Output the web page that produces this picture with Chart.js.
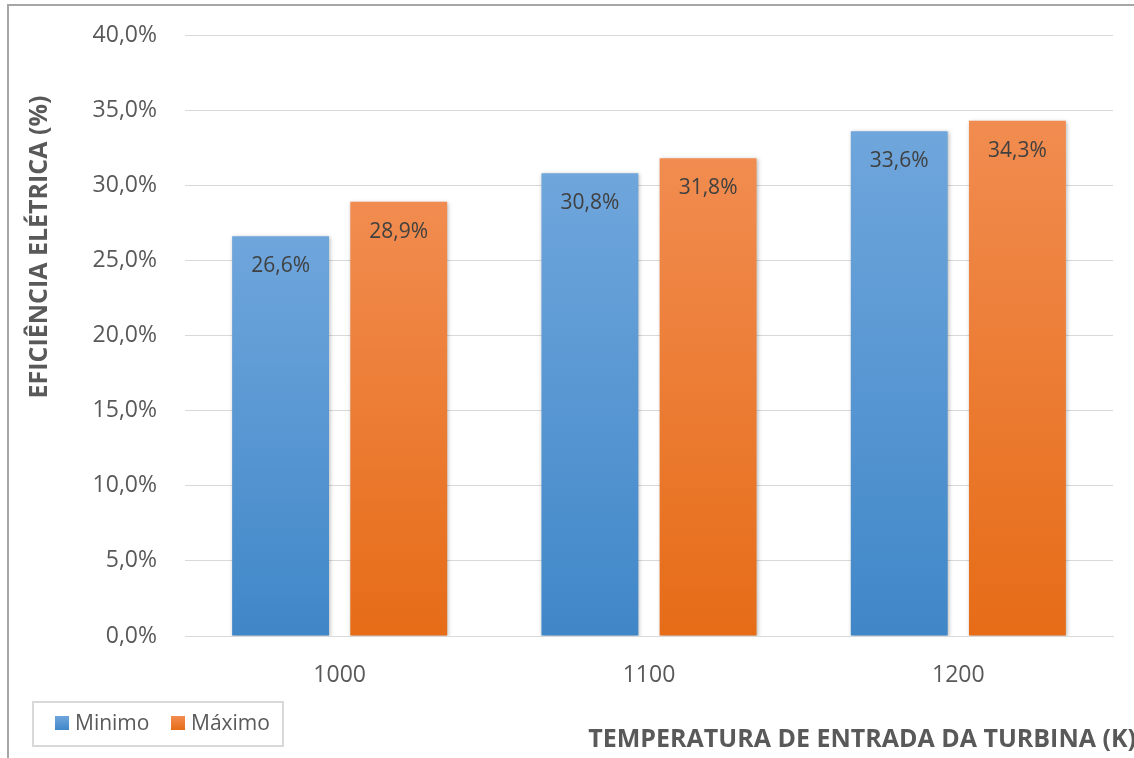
<!DOCTYPE html>
<html>
<head>
<meta charset="utf-8">
<script src="https://cdn.jsdelivr.net/npm/chart.js@4.4.1/dist/chart.umd.min.js"></script>
<style>
  html, body { margin: 0; padding: 0; background: #ffffff; }
  #wrap { position: relative; width: 1134px; height: 758px; }
</style>
</head>
<body>
<div id="wrap"><canvas id="c" width="1134" height="758"></canvas></div>
<script>
// Turbine inlet temperature (K) and electrical efficiency (%)
const categories = ['1000', '1100', '1200'];
const minimo = [26.6, 30.8, 33.6];
const maximo = [28.9, 31.8, 34.3];
const seriesNames = ['Minimo', 'Máximo'];
const yTicks = [0, 5, 10, 15, 20, 25, 30, 35, 40];
const yTitle = 'EFICIÊNCIA ELÉTRICA (%)';
const xTitle = 'TEMPERATURA DE ENTRADA DA TURBINA (K)';

const FONT = '"Open Sans", "Liberation Sans", sans-serif';
const fmt = v => v.toFixed(1).replace('.', ',') + '%';

// vertical gradient per bar, light at the top, darker at the base
function barGradient(top, bottom) {
  return function (ctx) {
    const chart = ctx.chart;
    const y = chart.scales.y;
    if (!chart.chartArea || !y) return bottom;
    const v = ctx.raw;
    const y0 = y.getPixelForValue(v);
    const y1 = y.getPixelForValue(0);
    const g = chart.ctx.createLinearGradient(0, y0, 0, y1);
    g.addColorStop(0, top);
    g.addColorStop(1, bottom);
    return g;
  };
}

const frame = {
  id: 'frame',
  beforeDraw(chart) {
    const c = chart.ctx;
    c.save();
    c.fillStyle = '#ffffff';
    c.fillRect(0, 0, chart.width, chart.height);
    c.strokeStyle = '#a6a6a6';
    c.lineWidth = 2;
    c.beginPath();
    c.moveTo(8, chart.height);
    c.lineTo(8, 5);
    c.lineTo(chart.width, 5);
    c.stroke();
    c.restore();
  }
};

const shadow = {
  id: 'shadow',
  beforeDatasetsDraw(chart) {
    const c = chart.ctx;
    c.save();
    c.shadowColor = 'rgba(0,0,0,0.28)';
    c.shadowBlur = 4;
    c.shadowOffsetX = 1;
    c.shadowOffsetY = 1;
  },
  afterDatasetsDraw(chart) {
    chart.ctx.restore();
  }
};

const labelsAndTitles = {
  id: 'labelsAndTitles',
  afterDatasetsDraw(chart) {
    const c = chart.ctx;
    c.save();
    // value labels inside the top of each bar
    c.font = '21px ' + FONT;
    c.fillStyle = '#404040';
    c.textAlign = 'center';
    c.textBaseline = 'middle';
    chart.data.datasets.forEach((ds, i) => {
      const meta = chart.getDatasetMeta(i);
      meta.data.forEach((bar, j) => {
        c.fillText(fmt(ds.data[j]), bar.x, bar.y + 30);
      });
    });
    // axis titles
    c.fillStyle = '#595959';
    c.font = 'bold 25px ' + FONT;
    c.save();
    c.translate(40, 247);
    c.rotate(-Math.PI / 2);
    c.fillText(yTitle, 0, 0);
    c.restore();
    c.textAlign = 'right';
    c.fillText(xTitle, 1136, 740);
    // legend box
    c.strokeStyle = '#d9d9d9';
    c.lineWidth = 2;
    c.strokeRect(33, 702, 250, 44);
    c.font = '21px ' + FONT;
    c.textAlign = 'left';
    const items = [
      { x: 55, name: seriesNames[0], top: '#6fa6dc', bot: '#4087c8' },
      { x: 171, name: seriesNames[1], top: '#f18c50', bot: '#e66c17' }
    ];
    items.forEach(it => {
      const g = c.createLinearGradient(0, 716, 0, 730);
      g.addColorStop(0, it.top);
      g.addColorStop(1, it.bot);
      c.fillStyle = g;
      c.fillRect(it.x, 716, 14, 14);
      c.fillStyle = '#595959';
      c.fillText(it.name, it.x + 20, 724);
    });
    c.restore();
  }
};

new Chart(document.getElementById('c'), {
  type: 'bar',
  data: {
    labels: categories,
    datasets: [
      { label: seriesNames[0], data: minimo, backgroundColor: barGradient('#6fa6dc', '#4087c8'), categoryPercentage: 0.764, barPercentage: 0.82 },
      { label: seriesNames[1], data: maximo, backgroundColor: barGradient('#f18c50', '#e66c17'), categoryPercentage: 0.764, barPercentage: 0.82 }
    ]
  },
  options: {
    responsive: false,
    animation: false,
    layout: { padding: { left: 0, right: 21, top: 35, bottom: 0 } },
    plugins: { legend: { display: false }, tooltip: { enabled: false }, title: { display: false } },
    scales: {
      y: {
        min: 0, max: 40,
        afterFit(s) { s.width = 185; },
        afterBuildTicks(s) { s.ticks = yTicks.map(v => ({ value: v })); },
        border: { display: false },
        grid: { color: '#d9d9d9', lineWidth: 1, drawTicks: true, tickLength: 28, tickColor: 'rgba(0,0,0,0)' },
        ticks: { padding: 0, color: '#595959', font: { family: FONT, size: 23 }, callback: v => fmt(v) }
      },
      x: {
        afterFit(s) { s.height = 122; },
        border: { display: true, color: '#d9d9d9', width: 1 },
        grid: { display: false, drawTicks: false },
        ticks: { padding: 26, color: '#595959', font: { family: FONT, size: 23 } }
      }
    }
  },
  plugins: [frame, shadow, labelsAndTitles]
});
</script>
</body>
</html>
